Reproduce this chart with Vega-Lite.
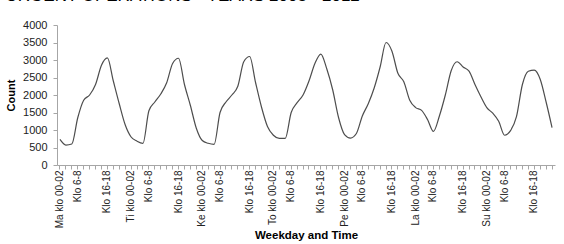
{
  "$schema": "https://vega.github.io/schema/vega-lite/v6.json",
  "autosize": {"type": "none"},
  "width": 498,
  "height": 140,
  "padding": {"left": 57, "top": 25, "right": 9, "bottom": 79},
  "background": "white",
  "title": {
    "text": "URGENT OPERATIONS - YEARS 2003 - 2012",
    "anchor": "start",
    "offset": 14,
    "font": "Liberation Sans",
    "fontSize": 17,
    "fontWeight": "normal",
    "color": "#000000"
  },
  "data": {
    "values": [
      {"slot": "Ma klo 00-02", "v": 730}, {"slot": "Ma klo 02-04", "v": 570}, {"slot": "Ma klo 04-06", "v": 600}, {"slot": "Ma klo 06-08", "v": 1350}, {"slot": "Ma klo 08-10", "v": 1850}, {"slot": "Ma klo 10-12", "v": 2000}, {"slot": "Ma klo 12-14", "v": 2300}, {"slot": "Ma klo 14-16", "v": 2850}, {"slot": "Ma klo 16-18", "v": 3060}, {"slot": "Ma klo 18-20", "v": 2400}, {"slot": "Ma klo 20-22", "v": 1750}, {"slot": "Ma klo 22-24", "v": 1150},
      {"slot": "Ti klo 00-02", "v": 800}, {"slot": "Ti klo 02-04", "v": 680}, {"slot": "Ti klo 04-06", "v": 620}, {"slot": "Ti klo 06-08", "v": 1550}, {"slot": "Ti klo 08-10", "v": 1800}, {"slot": "Ti klo 10-12", "v": 2030}, {"slot": "Ti klo 12-14", "v": 2350}, {"slot": "Ti klo 14-16", "v": 2900}, {"slot": "Ti klo 16-18", "v": 3050}, {"slot": "Ti klo 18-20", "v": 2300}, {"slot": "Ti klo 20-22", "v": 1700}, {"slot": "Ti klo 22-24", "v": 1050},
      {"slot": "Ke klo 00-02", "v": 700}, {"slot": "Ke klo 02-04", "v": 620}, {"slot": "Ke klo 04-06", "v": 590}, {"slot": "Ke klo 06-08", "v": 1500}, {"slot": "Ke klo 08-10", "v": 1800}, {"slot": "Ke klo 10-12", "v": 2000}, {"slot": "Ke klo 12-14", "v": 2250}, {"slot": "Ke klo 14-16", "v": 2950}, {"slot": "Ke klo 16-18", "v": 3100}, {"slot": "Ke klo 18-20", "v": 2350}, {"slot": "Ke klo 20-22", "v": 1650}, {"slot": "Ke klo 22-24", "v": 1100},
      {"slot": "To klo 00-02", "v": 850}, {"slot": "To klo 02-04", "v": 760}, {"slot": "To klo 04-06", "v": 760}, {"slot": "To klo 06-08", "v": 1500}, {"slot": "To klo 08-10", "v": 1780}, {"slot": "To klo 10-12", "v": 2000}, {"slot": "To klo 12-14", "v": 2400}, {"slot": "To klo 14-16", "v": 2900}, {"slot": "To klo 16-18", "v": 3170}, {"slot": "To klo 18-20", "v": 2750}, {"slot": "To klo 20-22", "v": 2150}, {"slot": "To klo 22-24", "v": 1350},
      {"slot": "Pe klo 00-02", "v": 870}, {"slot": "Pe klo 02-04", "v": 770}, {"slot": "Pe klo 04-06", "v": 900}, {"slot": "Pe klo 06-08", "v": 1400}, {"slot": "Pe klo 08-10", "v": 1750}, {"slot": "Pe klo 10-12", "v": 2200}, {"slot": "Pe klo 12-14", "v": 2800}, {"slot": "Pe klo 14-16", "v": 3500}, {"slot": "Pe klo 16-18", "v": 3250}, {"slot": "Pe klo 18-20", "v": 2620}, {"slot": "Pe klo 20-22", "v": 2380}, {"slot": "Pe klo 22-24", "v": 1850},
      {"slot": "La klo 00-02", "v": 1640}, {"slot": "La klo 02-04", "v": 1560}, {"slot": "La klo 04-06", "v": 1300}, {"slot": "La klo 06-08", "v": 960}, {"slot": "La klo 08-10", "v": 1400}, {"slot": "La klo 10-12", "v": 2000}, {"slot": "La klo 12-14", "v": 2700}, {"slot": "La klo 14-16", "v": 2950}, {"slot": "La klo 16-18", "v": 2800}, {"slot": "La klo 18-20", "v": 2680}, {"slot": "La klo 20-22", "v": 2300}, {"slot": "La klo 22-24", "v": 1950},
      {"slot": "Su klo 00-02", "v": 1640}, {"slot": "Su klo 02-04", "v": 1480}, {"slot": "Su klo 04-06", "v": 1250}, {"slot": "Su klo 06-08", "v": 850}, {"slot": "Su klo 08-10", "v": 980}, {"slot": "Su klo 10-12", "v": 1380}, {"slot": "Su klo 12-14", "v": 2300}, {"slot": "Su klo 14-16", "v": 2680}, {"slot": "Su klo 16-18", "v": 2710}, {"slot": "Su klo 18-20", "v": 2450}, {"slot": "Su klo 20-22", "v": 1800}, {"slot": "Su klo 22-24", "v": 1070}
    ]
  },
  "mark": {"type": "line", "interpolate": "monotone", "color": "#4d4d4d", "strokeWidth": 1.2},
  "encoding": {
    "x": {
      "field": "slot",
      "type": "ordinal",
      "sort": null,
      "scale": {"type": "band", "paddingInner": 0, "paddingOuter": 0},
      "axis": {
        "title": "Weekday and Time",
        "labelAngle": -90,
        "labelAlign": "right",
        "labelBaseline": "middle",
        "labelOverlap": false,
        "labelExpr": "indexof(datum.value,'00-02')>0 ? datum.value : indexof(datum.value,'06-08')>0 ? 'Klo 6-8' : indexof(datum.value,'16-18')>0 ? 'Klo 16-18' : ''",
        "tickSize": 4,
        "tickColor": "#a6a6a6",
        "domainColor": "#a6a6a6",
        "labelPadding": 1,
        "labelFont": "Liberation Sans",
        "labelFontSize": 10,
        "labelColor": "#222222",
        "titleFont": "Liberation Sans",
        "titleFontSize": 11.5,
        "titleFontWeight": "bold",
        "titleColor": "#000000",
        "titlePadding": 2
      }
    },
    "y": {
      "field": "v",
      "type": "quantitative",
      "scale": {"domain": [0, 4000], "nice": false},
      "axis": {
        "title": "Count",
        "values": [0, 500, 1000, 1500, 2000, 2500, 3000, 3500, 4000],
        "format": "d",
        "grid": false,
        "tickSize": 4,
        "tickColor": "#a6a6a6",
        "domainColor": "#a6a6a6",
        "labelPadding": 6,
        "labelFont": "Liberation Sans",
        "labelFontSize": 11,
        "labelColor": "#222222",
        "titleFont": "Liberation Sans",
        "titleFontSize": 11,
        "titleFontWeight": "bold",
        "titleColor": "#000000",
        "titlePadding": 6
      }
    }
  },
  "config": {"view": {"stroke": null}}
}
